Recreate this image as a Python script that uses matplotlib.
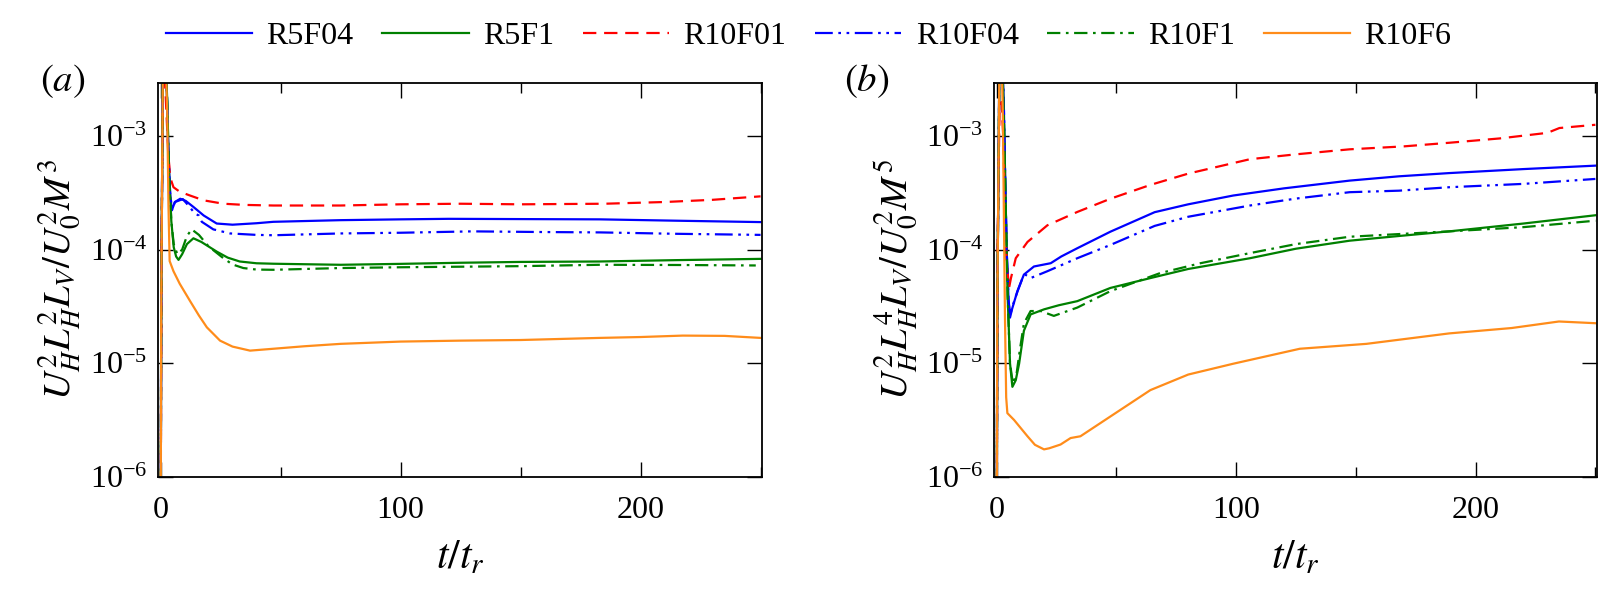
import matplotlib
matplotlib.use("Agg")
import matplotlib.pyplot as plt
from matplotlib.ticker import MultipleLocator, NullLocator, LogLocator

plt.rcParams['font.family'] = ['Liberation Serif', 'DejaVu Serif']
plt.rcParams['mathtext.fontset'] = 'stix'

labels = ["R5F04", "R5F1", "R10F01", "R10F04", "R10F1", "R10F6"]
colors = ["#0000ff", "#008000", "#ff0000", "#0000ff", "#008000", "#ff8c1a"]

# ---------------- panel (a) ----------------
a_t_R5F04 = [0, 0.3, 1.0, 2.0, 2.6, 3.2, 4.0, 4.7, 6, 8.2, 10.5, 13.7, 18, 23.4, 30, 40, 47, 75, 100, 120, 150, 183, 215, 250]
a_v_R5F04 = [1e-7, 3.16e-5, 5.01e-3, 6.31e-3, 2.51e-3, 7.94e-4, 3.16e-4, 2.22e-4, 2.63e-4, 2.81e-4, 2.69e-4, 2.38e-4,
             2.0e-4, 1.70e-4, 1.66e-4, 1.71e-4, 1.76e-4, 1.82e-4, 1.85e-4, 1.87e-4, 1.86e-4, 1.85e-4, 1.80e-4, 1.75e-4]

a_t_R5F1 = [0, 0.3, 1.0, 2.0, 2.8, 3.5, 4.5, 5.5, 6.5, 7.5, 9, 11, 13.7, 17, 23.4, 28, 33, 40, 47, 75, 100, 125, 150, 183, 215, 250]
a_v_R5F1 = [1e-7, 3.16e-5, 5.01e-3, 6.31e-3, 2.0e-3, 5.01e-4, 1.78e-4, 1.05e-4, 8.71e-5, 8.13e-5, 9.12e-5, 1.12e-4, 1.26e-4,
            1.17e-4, 9.62e-5, 8.51e-5, 7.87e-5, 7.59e-5, 7.52e-5, 7.36e-5, 7.50e-5, 7.67e-5, 7.80e-5, 7.87e-5, 8.09e-5, 8.30e-5]

a_t_R10F01 = [0, 0.4, 1.0, 1.8, 2.5, 3.2, 4.0, 4.6, 5.4, 8, 12.3, 18, 26.2, 35, 47, 75, 100, 125, 150, 185, 210, 230, 250]
a_v_R10F01 = [1e-7, 1e-4, 2.51e-3, 3.16e-3, 1.58e-3, 7.08e-4, 4.47e-4, 3.98e-4, 3.55e-4, 3.24e-4, 3.0e-4, 2.72e-4, 2.54e-4,
              2.48e-4, 2.45e-4, 2.45e-4, 2.51e-4, 2.54e-4, 2.51e-4, 2.54e-4, 2.63e-4, 2.75e-4, 2.95e-4]

a_t_R10F04 = [0, 0.3, 1.0, 2.0, 2.6, 3.2, 4.0, 4.8, 6, 9.3, 12, 14.4, 16, 17.2, 22, 29, 40, 47, 75, 100, 130, 160, 183, 215, 250]
a_v_R10F04 = [1e-7, 3.16e-5, 5.01e-3, 6.31e-3, 2.51e-3, 7.94e-4, 3.16e-4, 2.24e-4, 2.63e-4, 2.79e-4, 2.40e-4, 2.07e-4, 2.0e-4,
              1.76e-4, 1.51e-4, 1.39e-4, 1.35e-4, 1.34e-4, 1.39e-4, 1.41e-4, 1.45e-4, 1.43e-4, 1.42e-4, 1.38e-4, 1.35e-4]

a_t_R10F1 = [0, 0.3, 1.0, 2.0, 2.8, 3.5, 4.5, 5.5, 7, 9, 11, 13, 16, 20, 26.2, 30, 34.5, 40, 47, 75, 100, 125, 150, 183, 215, 248]
a_v_R10F1 = [1e-7, 3.16e-5, 5.01e-3, 6.31e-3, 2.0e-3, 5.01e-4, 1.78e-4, 1.12e-4, 9.12e-5, 1.0e-4, 1.32e-4, 1.51e-4, 1.35e-4,
             1.07e-4, 8.41e-5, 7.41e-5, 6.89e-5, 6.68e-5, 6.65e-5, 6.89e-5, 7.0e-5, 7.08e-5, 7.16e-5, 7.36e-5, 7.33e-5, 7.26e-5]

a_t_R10F6 = [0, 0.3, 1.0, 2.0, 2.8, 3.3, 3.8, 5.4, 8, 12.3, 16, 19.3, 24.8, 30, 37.3, 47, 60, 75, 100, 125, 150, 183, 200, 217.6, 235, 250]
a_v_R10F6 = [1e-7, 3.16e-5, 5.01e-3, 6.31e-3, 1.58e-3, 2.51e-4, 7.94e-5, 6.46e-5, 5.01e-5, 3.53e-5, 2.63e-5, 2.07e-5, 1.58e-5,
             1.40e-5, 1.29e-5, 1.34e-5, 1.41e-5, 1.48e-5, 1.55e-5, 1.58e-5, 1.60e-5, 1.67e-5, 1.70e-5, 1.75e-5, 1.74e-5, 1.67e-5]

# ---------------- panel (b) ----------------
b_t_R5F04 = [0, 0.3, 1.2, 2.2, 3.0, 3.6, 4.2, 5.0, 5.6, 6.5, 8.7, 11.4, 15.6, 22.6, 27, 33.7, 47.5, 66, 80, 98.8, 120, 147.4, 168, 189, 220, 250]
b_v_R5F04 = [1e-7, 3.16e-5, 5.01e-3, 6.31e-3, 2.0e-3, 3.98e-4, 1.0e-4, 3.55e-5, 2.52e-5, 3.02e-5, 4.32e-5, 6.03e-5, 7.11e-5,
             7.60e-5, 8.71e-5, 1.03e-4, 1.44e-4, 2.14e-4, 2.51e-4, 3.0e-4, 3.47e-4, 4.06e-4, 4.43e-4, 4.73e-4, 5.13e-4, 5.50e-4]

b_t_R5F1 = [0, 0.3, 1.2, 2.2, 3.0, 3.8, 4.6, 5.6, 6.6, 8, 9.4, 11.4, 14.2, 19.8, 26, 33.7, 47.5, 64.2, 80, 105.8, 125, 147.4, 168, 189, 220, 250]
b_v_R5F1 = [1e-7, 3.16e-5, 5.01e-3, 6.31e-3, 1.58e-3, 2.51e-4, 3.98e-5, 1.0e-5, 6.19e-6, 7.08e-6, 9.89e-6, 1.93e-5, 2.69e-5,
            2.98e-5, 3.24e-5, 3.52e-5, 4.60e-5, 5.62e-5, 6.76e-5, 8.41e-5, 1.02e-4, 1.20e-4, 1.32e-4, 1.45e-4, 1.70e-4, 2.01e-4]

b_t_R10F01 = [0, 0.4, 1.2, 2.0, 2.8, 3.4, 4.2, 5.2, 6.0, 8, 12.9, 21.2, 33.7, 47.5, 64.2, 80, 105.8, 125, 147.4, 170, 189, 210, 230, 235, 250]
b_v_R10F01 = [1e-7, 1e-4, 1.58e-3, 2.0e-3, 1.0e-3, 2.51e-4, 7.94e-5, 4.60e-5, 5.62e-5, 8.41e-5, 1.17e-4, 1.64e-4, 2.15e-4,
              2.81e-4, 3.72e-4, 4.68e-4, 6.27e-4, 6.92e-4, 7.66e-4, 8.13e-4, 8.75e-4, 9.55e-4, 1.07e-3, 1.18e-3, 1.26e-3]

b_t_R10F04 = [0, 0.3, 1.2, 2.2, 3.0, 3.6, 4.2, 5.0, 5.7, 6.6, 8.7, 11, 12, 14.2, 21.2, 33.7, 47.5, 66, 80, 105.8, 125, 147.4, 168, 189, 220, 250]
b_v_R10F04 = [1e-7, 3.16e-5, 5.01e-3, 6.31e-3, 2.0e-3, 3.98e-4, 1.0e-4, 3.55e-5, 2.63e-5, 3.16e-5, 4.27e-5, 5.75e-5, 6.03e-5,
              5.62e-5, 6.46e-5, 8.41e-5, 1.10e-4, 1.62e-4, 1.95e-4, 2.45e-4, 2.82e-4, 3.21e-4, 3.31e-4, 3.55e-4, 3.80e-4, 4.20e-4]

b_t_R10F1 = [0, 0.3, 1.2, 2.2, 3.0, 3.8, 4.6, 5.6, 6.8, 8.3, 9.6, 11.4, 14.2, 18.4, 23.9, 33.7, 47.5, 68.3, 85, 105.8, 125, 147.4, 170, 189, 220, 250]
b_v_R10F1 = [1e-7, 3.16e-5, 5.01e-3, 6.31e-3, 1.58e-3, 2.51e-4, 3.98e-5, 1.0e-5, 6.61e-6, 7.94e-6, 1.26e-5, 2.24e-5, 2.88e-5,
             2.88e-5, 2.61e-5, 3.09e-5, 4.31e-5, 6.22e-5, 7.59e-5, 9.33e-5, 1.12e-4, 1.30e-4, 1.38e-4, 1.45e-4, 1.58e-4, 1.80e-4]

b_t_R10F6 = [0, 0.3, 1.2, 2.0, 2.6, 3.0, 3.5, 4.0, 4.5, 7.3, 12.9, 16, 19.8, 22, 26.7, 30.9, 35, 47.5, 64.2, 80, 98.8, 126.6, 154.4, 189, 215, 234.8, 250]
b_v_R10F6 = [1e-7, 3.16e-5, 5.01e-3, 6.31e-3, 1.58e-3, 2.51e-4, 2.51e-5, 5.01e-6, 3.63e-6, 3.16e-6, 2.27e-6, 1.91e-6, 1.74e-6,
             1.78e-6, 1.92e-6, 2.19e-6, 2.27e-6, 3.39e-6, 5.79e-6, 7.94e-6, 9.89e-6, 1.34e-5, 1.48e-5, 1.83e-5, 2.04e-5, 2.33e-5, 2.25e-5]

styles = ["-", "-", (0, (6, 3.5)), (0, (8, 2.5, 1.2, 2.5, 1.2, 2.5)), (0, (6, 2.5, 1.2, 2.5)), "-"]

panel_a = [(a_t_R5F04, a_v_R5F04), (a_t_R5F1, a_v_R5F1), (a_t_R10F01, a_v_R10F01),
           (a_t_R10F04, a_v_R10F04), (a_t_R10F1, a_v_R10F1), (a_t_R10F6, a_v_R10F6)]
panel_b = [(b_t_R5F04, b_v_R5F04), (b_t_R5F1, b_v_R5F1), (b_t_R10F01, b_v_R10F01),
           (b_t_R10F04, b_v_R10F04), (b_t_R10F1, b_v_R10F1), (b_t_R10F6, b_v_R10F6)]

fig = plt.figure(figsize=(15.98, 5.94), dpi=100)
ax_a = fig.add_axes([0.0991, 0.1975, 0.3776, 0.6633])
ax_b = fig.add_axes([0.6223, 0.1975, 0.3768, 0.6633])

handles = []
for ax, data, ylab in [
        (ax_a, panel_a, r"$U_H^2L_H^2L_V/U_0^2M^3$"),
        (ax_b, panel_b, r"$U_H^2L_H^4L_V/U_0^2M^5$")]:
    hs = []
    for (t, v), c, ls, lab in zip(data, colors, styles, labels):
        h, = ax.plot(t, v, color=c, linestyle=ls, linewidth=1.6, label=lab)
        hs.append(h)
    handles = hs
    ax.set_yscale("log")
    ax.set_ylim(1e-6, 2.96e-3)
    ax.set_xlim(-0.9, 250.5)
    ax.xaxis.set_major_locator(MultipleLocator(100))
    ax.xaxis.set_minor_locator(MultipleLocator(50))
    ax.yaxis.set_major_locator(LogLocator(base=10, numticks=10))
    ax.yaxis.set_minor_locator(NullLocator())
    ax.tick_params(which="both", direction="in", top=True, right=True, labelsize=23, width=1.0)
    ax.tick_params(which="major", length=11)
    ax.tick_params(axis="x", which="major", pad=14)
    ax.tick_params(axis="y", which="major", pad=8)
    ax.tick_params(which="minor", length=7)
    for s in ax.spines.values():
        s.set_linewidth(1.3)
    ax.set_xlabel(r"$t/t_r$", fontsize=30, labelpad=10)
    ax.set_ylabel(ylab, fontsize=28, labelpad=5)

fig.text(0.039, 0.864, r"$(a)$", fontsize=28, ha="center", va="center")
fig.text(0.5425, 0.864, r"$(b)$", fontsize=28, ha="center", va="center")

fig.legend(handles=handles, labels=labels, loc="upper center", bbox_to_anchor=(0.506, 1.012),
           ncol=6, frameon=False, fontsize=23, handlelength=2.7, handletextpad=0.45,
           columnspacing=0.9)

fig.savefig("out.png", dpi=100)
